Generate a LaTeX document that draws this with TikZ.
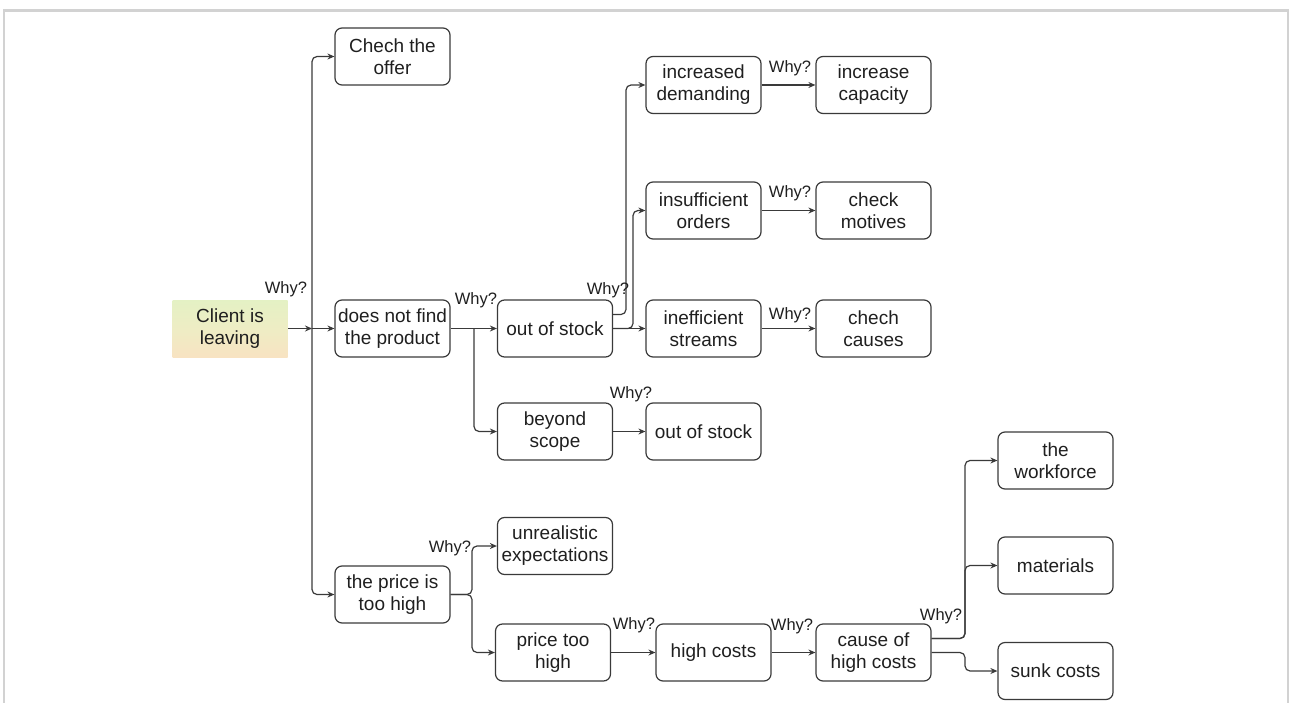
\documentclass[tikz,border=0pt]{standalone}
\usepackage{fontspec}
\setmainfont{Liberation Sans}
\usetikzlibrary{arrows.meta,shadings}
\definecolor{ln}{HTML}{3A3A3A}
\definecolor{frm}{HTML}{D2D2D2}
\definecolor{topg}{HTML}{E4F1C4}
\definecolor{midg}{HTML}{EEEDC4}
\definecolor{botg}{HTML}{F8E3C2}
\begin{document}
\begin{tikzpicture}[x=1pt,y=-1pt,
 box/.style={draw=ln, line width=1.2pt, rounded corners=7pt, minimum width=115pt, minimum height=57pt, inner sep=0pt, align=center, font=\fontsize{19}{22}\selectfont, text=black!88},
 why/.style={font=\fontsize{16.5}{18}\selectfont, inner sep=0pt, text=black!88},
 conn/.style={draw=ln, line width=1.2pt, rounded corners=5pt, -{Stealth[length=7pt,width=6pt]}}]
\useasboundingbox (0,0) rectangle (1289,703);
\draw[frm, line width=2.5pt] (4.2,703) -- (4.2,10.5) -- (1287.8,10.5) -- (1287.8,703);

% nodes
\node[box, draw=none, rounded corners=0pt, top color=topg, bottom color=botg, middle color=midg] (cl) at (230,328.5) {Client is\\leaving};
\node[box] (offer) at (392.5,56.5) {Chech the\\offer};
\node[box] (dnf) at (392.5,328.5) {does not find\\the product};
\node[box] (pth) at (392.5,594.5) {the price is\\too high};
\node[box] (oos) at (555,328.5) {out of stock};
\node[box] (bey) at (555,431.5) {beyond\\scope};
\node[box] (unr) at (555,546) {unrealistic\\expectations};
\node[box] (ptoo) at (553,652.5) {price too\\high};
\node[box] (dem) at (703.5,85) {increased\\demanding};
\node[box] (ord) at (703.5,210.5) {insufficient\\orders};
\node[box] (str) at (703.5,328.5) {inefficient\\streams};
\node[box] (oos2) at (703.5,431.5) {out of stock};
\node[box] (hc) at (713.5,652.5) {high costs};
\node[box] (cap) at (873.5,85) {increase\\capacity};
\node[box] (mot) at (873.5,210.5) {check\\motives};
\node[box] (cau) at (873.5,328.5) {chech\\causes};
\node[box] (chc) at (873.5,652.5) {cause of\\high costs};
\node[box] (wf) at (1055.5,460.5) {the\\workforce};
\node[box] (mat) at (1055.5,565.5) {materials};
\node[box] (sunk) at (1055.5,671) {sunk costs};

% junctions
\coordinate (j1) at (312,328.5);
\coordinate (j2) at (474,328.5);
\coordinate (j3a) at (626,314.5);
\coordinate (j3b) at (633,328.5);
\coordinate (j4) at (472,594.5);
\coordinate (j5a) at (965,638.5);
\coordinate (j5b) at (965,652.5);

% connectors
\draw[conn] (cl.east) -- (j1);
\draw[conn] (j1) |- (offer.west);
\draw[conn] (j1) -- (dnf.west);
\draw[conn] (j1) |- (pth.west);

\draw[conn] (dnf.east) -- (oos.west);
\draw[conn] (j2) |- (bey.west);

\draw[conn] ([yshift=14pt]oos.east) -- (j3a) |- (dem.west);
\draw[conn] (oos.east) -- (j3b) |- (ord.west);
\draw[conn] (oos.east) -- (str.west);

\draw[conn] (dem.east) -- (cap.west);
\draw[conn] (ord.east) -- (mot.west);
\draw[conn] (str.east) -- (cau.west);
\draw[conn] (bey.east) -- (oos2.west);

\draw[conn] (pth.east) -- (j4) |- (unr.west);
\draw[conn] (pth.east) -- (j4) |- (ptoo.west);
\draw[conn] (ptoo.east) -- (hc.west);
\draw[conn] (hc.east) -- (chc.west);

\draw[conn] ([yshift=14pt]chc.east) -- (j5a) |- (wf.west);
\draw[conn] ([yshift=14pt]chc.east) -- (j5a) |- (mat.west);
\draw[conn] (chc.east) -- (j5b) |- (sunk.west);

% labels
\node[why] (w1) at (286,289) {Why?};
\node[why] (w2) at (476,300) {Why?};
\node[why] (w3) at (608,290) {Why?};
\node[why] (w4) at (790,68) {Why?};
\node[why] (w5) at (790,193) {Why?};
\node[why] (w6) at (790,315) {Why?};
\node[why] (w7) at (631,394) {Why?};
\node[why] (w8) at (450,548) {Why?};
\node[why] (w9) at (634,625) {Why?};
\node[why] (w10) at (792,626) {Why?};
\node[why] (w11) at (941,616) {Why?};
\end{tikzpicture}
\end{document}
